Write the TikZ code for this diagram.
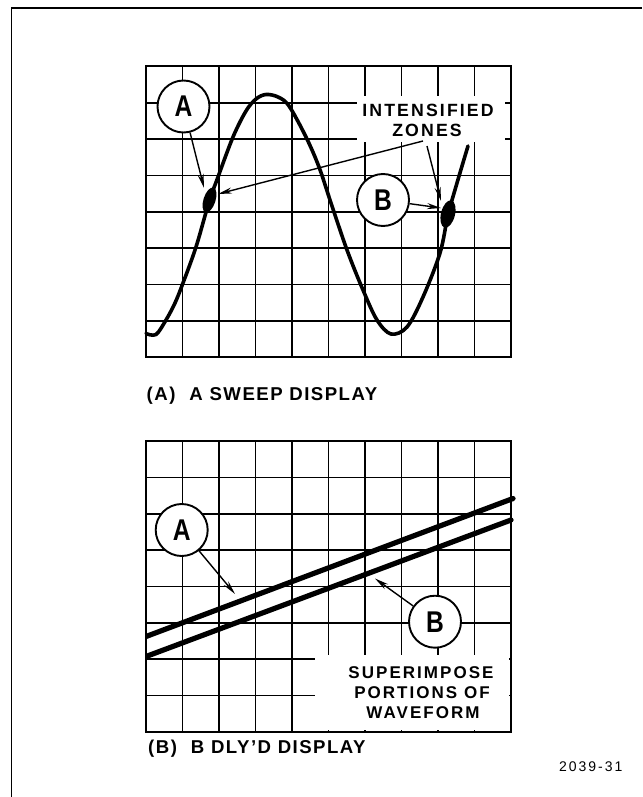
\documentclass[tikz,border=0pt]{standalone}
\usepackage{fontspec}
\setmainfont{Liberation Sans}
\newfontfamily\capfont[LetterSpace=8]{Liberation Sans}
\newfontfamily\lblfont[LetterSpace=12]{Liberation Sans}
\newfontfamily\numfont[LetterSpace=14]{Liberation Sans}
\newfontfamily\circfont[FakeStretch=0.82]{Liberation Sans}
\usetikzlibrary{arrows.meta,shapes.geometric}
\begin{document}
\begin{tikzpicture}[x=1pt,y=-1pt,
  gridl/.style={line width=1.7pt},
  gframe/.style={line width=2pt},
  wave/.style={line width=3.6pt, line cap=round, line join=round},
  trace/.style={line width=5.2pt},
  ptr/.style={line width=1.4pt, -{Stealth[length=14pt,width=6pt]}},
  circ/.style={circle, draw, line width=1.9pt, fill=white, minimum size=52pt, inner sep=0pt,
    font=\circfont\bfseries\fontsize{30}{30}\selectfont},
  blob/.style={ellipse, fill=black, inner sep=0pt},
  lbl/.style={font=\lblfont\bfseries\fontsize{17.7}{20}\selectfont, anchor=base, inner sep=0pt},
  lblb/.style={font=\lblfont\bfseries\fontsize{17}{20}\selectfont, anchor=base, inner sep=0pt},
  captxt/.style={font=\capfont\bfseries\fontsize{18.6}{20}\selectfont, anchor=base west, inner sep=0pt},
  numtxt/.style={font=\numfont\fontsize{14}{16}\selectfont, anchor=base west, inner sep=0pt}
]
\useasboundingbox (0,0) rectangle (642,797);
\fill[white] (0,0) rectangle (642,797);
% outer frame
\draw[line width=1.5pt] (11.5,797) -- (11.5,8) -- (642,8);

% ---------- top graticule ----------
\foreach \i in {1,...,9} \draw[gridl] (146+36.5*\i,66.5) -- (146+36.5*\i,357);
\foreach \j in {1,...,7} \draw[gridl] (146,66.5+36.3125*\j) -- (511,66.5+36.3125*\j);
\fill[white] (357,96) rectangle (505,142);
\draw[gframe] (146,66.5) rectangle (511,357);

% sine trace
\draw[wave] plot[smooth, tension=0.55] coordinates {
 (146,333.5) (156,334.5) (166,320) (175,303) (183,283) (196,247) (209,202)
 (218,177) (233,137) (246,111) (256,99) (266,94.5) (278,97) (289,106)
 (306,137) (319,167) (331,203) (347,250) (363,290) (377,320) (391,334)
 (407,327) (423,297) (440,253) (448,215) (457,183) (468,146)};
\node[blob, minimum width=26pt, minimum height=12pt, rotate=72] (zA) at (209.5,200) {};
\node[blob, minimum width=28pt, minimum height=14pt, rotate=76] (zB) at (448,214) {};

\node[lbl] (tI) at (428,116.7) {INTENSIFIED};
\node[lbl] (tZ) at (427,136.7) {ZONES};
\coordinate (s1) at (423,141);
\coordinate (s2) at (427,146);
\coordinate (pA) at (204,188);
\coordinate (pA2) at (218,194);
\coordinate (pB) at (441,201);
\coordinate (pB2) at (441,208);

\node[circ] (cA) at (183.5,106.5) {A};
\node[circ] (cB) at (383,200) {B};
\draw[ptr] (cA) -- (pA);
\draw[ptr] (s1) -- (pA2);
\draw[ptr] (s2) -- (pB);
\draw[ptr] (cB) -- (pB2);

\node[captxt] (capA) at (146.5,400.7) {(A)\hspace{14pt}A SWEEP DISPLAY};

% ---------- bottom graticule ----------
\foreach \i in {1,...,9} \draw[gridl] (146+36.5*\i,441) -- (146+36.5*\i,732);
\foreach \j in {1,...,7} \draw[gridl] (146,441+36.375*\j) -- (511,441+36.375*\j);
\fill[white] (315,655) rectangle (509,730);
\draw[gframe] (146,441) rectangle (511,732);

\coordinate (uL) at (146,636.5);
\coordinate (uR) at (513,498.5);
\coordinate (lL) at (146,656.5);
\coordinate (lR) at (511,520);
\draw[trace] (uL) -- (uR);
\draw[trace] (lL) -- (lR);
\fill (uR) circle (2.6pt);
\fill (lR) circle (2.6pt);

\coordinate (qA) at (235,594);
\coordinate (qB) at (375,578.5);
\node[circ] (cA2) at (181.7,530) {A};
\node[circ] (cB2) at (435,621.7) {B};
\draw[ptr] (cA2) -- (qA);
\draw[ptr] (cB2) -- (qB);

\node[lblb] (t1) at (421,678) {SUPERIMPOSE};
\node[lblb] (t2) at (422,698.3) {PORTIONS OF};
\node[lblb] (t3) at (423,718.3) {WAVEFORM};

\node[captxt] (capB) at (148,753) {(B)\hspace{14pt}B DLY’D DISPLAY};
\node[numtxt] (fig) at (559,771) {2039-31};
\end{tikzpicture}
\end{document}
